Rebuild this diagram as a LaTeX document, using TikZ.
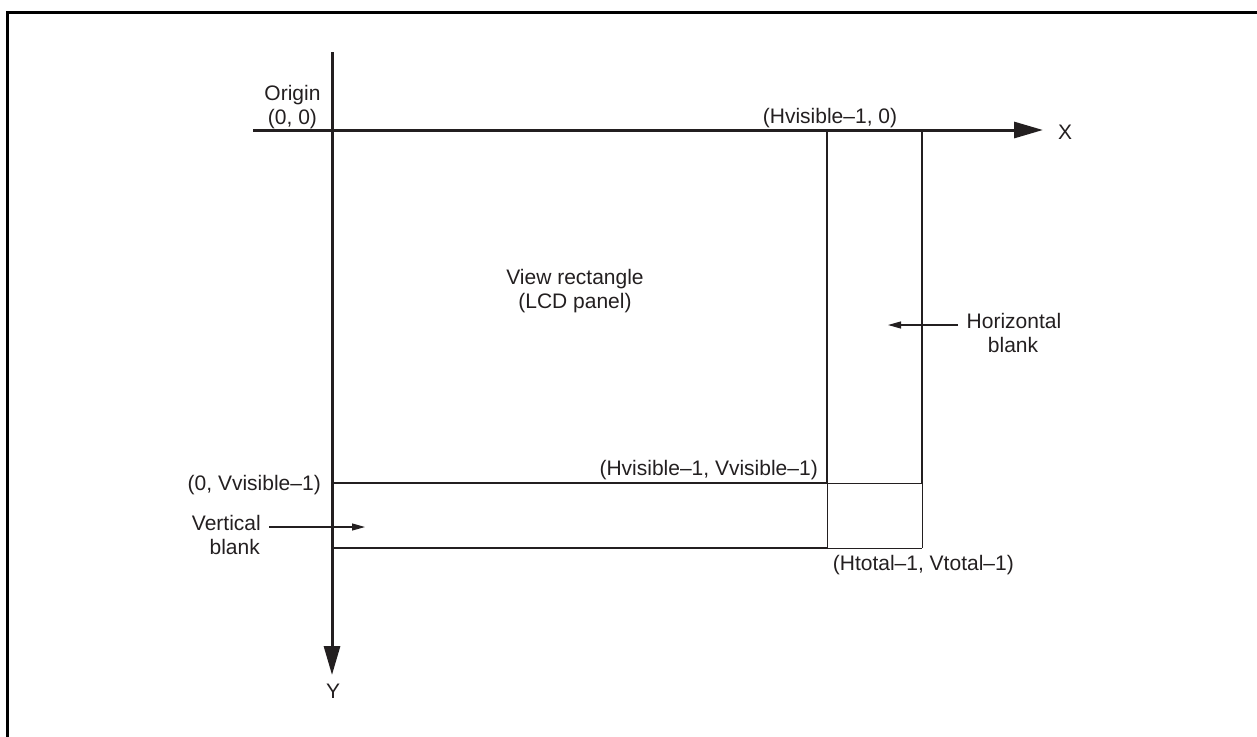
\documentclass[tikz,border=0pt]{standalone}
\usepackage{fontspec}
\setmainfont{Liberation Sans}
\usetikzlibrary{arrows.meta}
\definecolor{ink}{HTML}{231F20}
\begin{document}
\begin{tikzpicture}[x=1pt,y=-1pt,
  lbl/.style={inner sep=0pt,font=\fontsize{21}{24.5}\selectfont,text=ink,align=center},
  axis/.style={line width=3pt,draw=ink},
  edge/.style={line width=1.7pt,draw=ink},
  thin/.style={line width=1pt,draw=ink},
  bigtip/.style={-{Triangle[length=29pt,width=16pt]}},
  smalltip/.style={-{Triangle[length=13pt,width=7pt]}},
  ptr/.style={line width=1.1pt,draw=ink}]
\useasboundingbox (0,0) rectangle (1257,736);
% frame
\draw[line width=3.5pt] (7.5,740) -- (7.5,12.5) -- (1260,12.5);
% coordinates
\coordinate (yt) at (332,52);
\coordinate (yb) at (332,675);
\coordinate (xl) at (253,130);
\coordinate (xr) at (1043,130);
\coordinate (a) at (827,130);
\coordinate (b) at (922,130);
\coordinate (c) at (332,483);
\coordinate (d) at (827,483);
\coordinate (e) at (922,483);
\coordinate (f) at (332,548);
\coordinate (g) at (827,548);
\coordinate (h) at (922,548);
% rectangle lines
\draw[edge] (a) -- (d);
\draw[thin] (d) -- (g);
\draw[edge] (b) -- (e);
\draw[thin] (e) -- (h);
\draw[edge] (c) -- (d);
\draw[thin] (d) -- (e);
\draw[edge] (f) -- (g);
\draw[thin] (g) -- (h);
% axes
\draw[axis,bigtip] (yt) -- (yb);
\draw[axis,bigtip] (xl) -- (xr);
% labels
\node[lbl,anchor=base] (orig) at (292.5,100) {Origin};
\node[lbl,anchor=base] (orig2) at (292.5,124) {(0, 0)};
\node[lbl,anchor=base] (hv0) at (830,123) {(Hvisible–1, 0)};
\node[lbl] (xlab) at (1065,132) {X};
\node[lbl] (ylab) at (333,691) {Y};
\node[lbl,anchor=base] (view1) at (575,284) {View rectangle};
\node[lbl,anchor=base] (view2) at (575,308) {(LCD panel)};
\node[lbl,anchor=base] (hb1) at (1014,328) {Horizontal};
\node[lbl,anchor=base] (hb2) at (1013,352) {blank};
\node[lbl,anchor=base east] (hvvv) at (818,475) {(Hvisible–1, Vvisible–1)};
\node[lbl,anchor=base east] (v0) at (321,490) {(0, Vvisible–1)};
\node[lbl,anchor=base east] (vb1) at (261,530) {Vertical};
\node[lbl,anchor=base east] (vb2) at (260,554) {blank};
\node[lbl,anchor=base east] (ht) at (1014,570) {(Htotal–1, Vtotal–1)};
% pointer arrows
\coordinate (hs) at (958,325);
\coordinate (he) at (888,325);
\draw[ptr,smalltip] (hs) -- (he);
\coordinate (vs) at (269,527);
\coordinate (ve) at (365,527);
\draw[ptr,smalltip] (vs) -- (ve);
\end{tikzpicture}
\end{document}
